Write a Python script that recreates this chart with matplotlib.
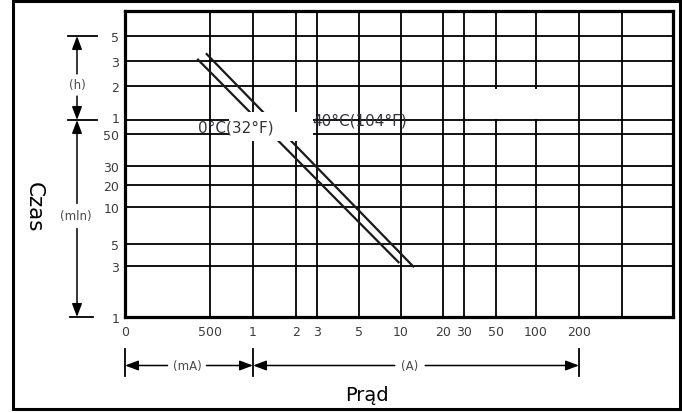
import numpy as np
import matplotlib
matplotlib.use('Agg')
import matplotlib.pyplot as plt
from matplotlib.patches import Rectangle
from matplotlib.lines import Line2D
import matplotlib.transforms as mtransforms

# ---------------- data ----------------
current_ticks = [0, 0.5, 1, 2, 3, 5, 10, 20, 30, 50, 100, 200, 500]          # A
current_labels = ['0', '500', '1', '2', '3', '5', '10', '20', '30', '50', '100', '200', '']
time_ticks = [1, 3, 5, 10, 20, 30, 50, 60, 120, 180, 300]                     # minutes
time_labels = ['1', '3', '5', '10', '20', '30', '50', '1', '2', '3', '5']

curve_0C_current = [0.425, 9.8]
curve_0C_time = [190, 3.27]
curve_40C_current = [0.476, 13.1]
curve_40C_time = [217, 2.95]
curve_labels = ['0°C(32°F)', '40°C(104°F)']

# ---------------- irregular axis layout (pixel positions of the grid values) ----------------
x_scale_vals = current_ticks + [1000]
x_scale_pos = [125, 210, 253, 296, 317, 359, 401, 443, 464, 496, 536, 579, 622, 673]
y_scale_vals = time_ticks + [420]
y_scale_pos = [318 - p for p in [318, 267, 245, 208, 186, 167, 135, 121, 87, 62, 37, 12]]

W, H = 682, 414
fig = plt.figure(figsize=(W / 100, H / 100), dpi=100)
fig.patch.set_facecolor('white')

def fx(px):
    return px / W

def fy(py):
    return 1 - py / H

ax = fig.add_axes([fx(125), fy(318), (673 - 125) / W, (318 - 12) / H])

ax.set_xscale('function', functions=(lambda v: np.interp(v, x_scale_vals, x_scale_pos),
                                     lambda p: np.interp(p, x_scale_pos, x_scale_vals)))
ax.set_yscale('function', functions=(lambda v: np.interp(v, y_scale_vals, y_scale_pos),
                                     lambda p: np.interp(p, y_scale_pos, y_scale_vals)))
ax.set_xlim(0, 1000)
ax.set_ylim(1, 420)

ax.set_xticks(current_ticks)
ax.set_xticklabels(current_labels)
ax.set_yticks(time_ticks)
ax.set_yticklabels(time_labels)
ax.xaxis.set_minor_locator(matplotlib.ticker.NullLocator())
ax.yaxis.set_minor_locator(matplotlib.ticker.NullLocator())

tick_color = '#3c3c3c'
ax.tick_params(axis='x', length=0, pad=6, labelsize=9, labelcolor=tick_color)
ax.tick_params(axis='y', length=0, pad=4, labelsize=9, labelcolor=tick_color)
for lab in ax.get_xticklabels() + ax.get_yticklabels():
    lab.set_fontfamily('DejaVu Sans')

# shift the "1" (hour) label slightly up
lab1h = ax.get_yticklabels()[7]
lab1h.set_transform(lab1h.get_transform() + mtransforms.ScaledTranslation(0, 2.5 / 100, fig.dpi_scale_trans))

ax.grid(True, color='black', linewidth=1.3)
ax.set_axisbelow(True)
for s in ax.spines.values():
    s.set_linewidth(2.3)
    s.set_color('black')
    s.set_zorder(5)

# curves
ax.plot(curve_0C_current, curve_0C_time, color='#1a1a1a', lw=1.6, zorder=2, solid_capstyle='butt')
ax.plot(curve_40C_current, curve_40C_time, color='#1a1a1a', lw=1.6, zorder=2, solid_capstyle='butt')

# white patches (label background / erased areas)
for (x0, y0, x1, y1) in [(229, 113, 313, 142), (482, 89.5, 550, 119.5)]:
    ax.add_patch(Rectangle((fx(x0), fy(y1)), (x1 - x0) / W, (y1 - y0) / H,
                           transform=fig.transFigure, facecolor='white', edgecolor='none', zorder=3))

label_color = '#33333f'
fig.text(fx(198), fy(128), curve_labels[0], fontsize=11, color=label_color,
         ha='left', va='center', family='DejaVu Sans', zorder=10)
fig.text(fx(312), fy(121.5), curve_labels[1], fontsize=11, color=label_color,
         ha='left', va='center', family='DejaVu Sans', zorder=10)

# axis titles
fig.text(fx(33.5), fy(207.5), 'Czas', rotation=270, fontsize=15.5, ha='center', va='center',
         family='DejaVu Sans', color='black')
fig.text(fx(367), fy(401.5), 'Prąd', fontsize=14, ha='center', va='baseline',
         family='DejaVu Sans', color='black')

# ---------------- dimension arrows ----------------
def fline(x0, y0, x1, y1, lw=1.3):
    fig.add_artist(Line2D([fx(x0), fx(x1)], [fy(y0), fy(y1)], transform=fig.transFigure,
                          color='black', lw=lw))

def dim(p_label, p_end, gap):
    fig.add_artist(matplotlib.patches.FancyArrowPatch(
        (fx(p_label[0]), fy(p_label[1])), (fx(p_end[0]), fy(p_end[1])),
        transform=fig.transFigure, arrowstyle='-|>,head_length=0.8,head_width=0.3',
        mutation_scale=10, shrinkA=gap, shrinkB=0, color='black', lw=1.1))

dim_color = '#4a4a4a'
# vertical (left)
for yy, (a, b) in [(37, (68, 97)), (121, (68, 97)), (318, (70, 93))]:
    fline(a, yy, b, yy)
dim((77, 86), (77, 37), 8)
dim((77, 86), (77, 121), 8)
fig.text(fx(77), fy(86), '(h)', fontsize=8.5, color=dim_color, ha='center', va='center', family='DejaVu Sans')
dim((77, 217), (77, 121), 9)
dim((77, 217), (77, 318), 9)
fig.text(fx(76), fy(217), '(mln)', fontsize=8.5, color=dim_color, ha='center', va='center', family='DejaVu Sans')

# horizontal (bottom)
for xx in [125, 253, 579]:
    fline(xx, 350, xx, 377)
dim((187, 366.5), (125, 366.5), 14)
dim((187, 366.5), (253, 366.5), 14)
fig.text(fx(187), fy(366.5), '(mA)', fontsize=8.5, color=dim_color, ha='center', va='center', family='DejaVu Sans')
dim((410, 366.5), (253, 366.5), 11)
dim((410, 366.5), (579, 366.5), 11)
fig.text(fx(410), fy(366.5), '(A)', fontsize=8.5, color=dim_color, ha='center', va='center', family='DejaVu Sans')

# outer border
fig.add_artist(Rectangle((fx(13), fy(410)), (680 - 13) / W, (410 - 1.5) / H, transform=fig.transFigure,
                         facecolor='none', edgecolor='black', lw=2.2))

fig.savefig('out.png', dpi=100)
